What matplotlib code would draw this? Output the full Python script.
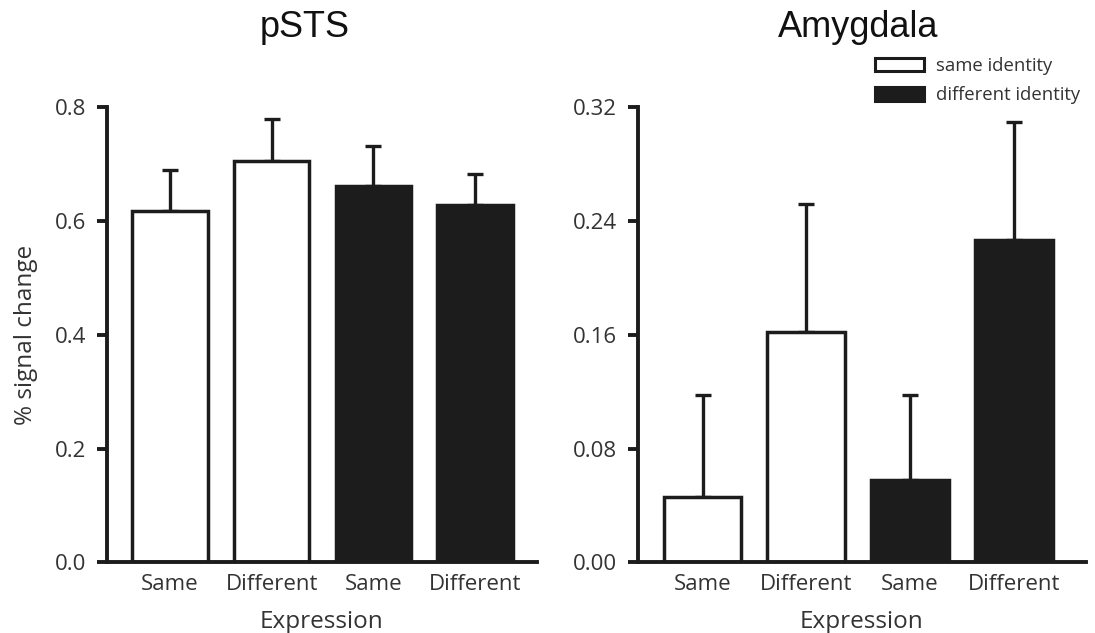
import matplotlib
matplotlib.use("Agg")
import matplotlib.pyplot as plt
from matplotlib.patches import Patch
from matplotlib.ticker import FormatStrFormatter
import numpy as np

plt.rcParams['font.family'] = ['Open Sans', 'DejaVu Sans']

# expression condition on the x axis, identity decides the fill
conditions = ['Same', 'Different', 'Same', 'Different']
identity = ['same', 'same', 'different', 'different']

psts_mean = [0.618, 0.705, 0.661, 0.628]
psts_err = [0.072, 0.075, 0.071, 0.054]

amyg_mean = [0.046, 0.162, 0.058, 0.227]
amyg_err = [0.072, 0.090, 0.060, 0.083]

INK = '#1c1c1c'
TXT = '#333333'
fill = {'same': 'white', 'different': INK}

fig = plt.figure(figsize=(10.95, 6.33), dpi=100)
ax1 = fig.add_axes([0.098, 0.1117, 0.392, 0.7188])
ax2 = fig.add_axes([0.5824, 0.1117, 0.4094, 0.7188])


def draw_panel(ax, means, errs, width, xlim, ymax, step, fmt):
    x = np.arange(len(means))
    ax.errorbar(x, means, yerr=[np.zeros(len(errs)), errs], fmt='none',
                ecolor=INK, elinewidth=2.4, capsize=5.5, capthick=2.4, zorder=1)
    ax.bar(x, means, width=width, color=[fill[i] for i in identity],
           edgecolor=INK, linewidth=2.5, zorder=2)
    ax.set_xlim(*xlim)
    ax.set_ylim(0, ymax)
    ax.set_yticks(np.arange(0, ymax + step / 2, step))
    ax.yaxis.set_major_formatter(FormatStrFormatter(fmt))
    ax.set_xticks(x)
    ax.set_xticklabels(conditions)
    for s in ['top', 'right']:
        ax.spines[s].set_visible(False)
    for s in ['left', 'bottom']:
        ax.spines[s].set_linewidth(2.8)
        ax.spines[s].set_color(INK)
    ax.tick_params(axis='y', length=7.2, width=2.8, color=INK, pad=8,
                   labelsize=16, labelcolor=TXT)
    ax.tick_params(axis='x', length=0, pad=8.5, labelsize=16, labelcolor=TXT)
    ax.set_xlabel('Expression', fontsize=17.5, color=TXT, labelpad=11)


draw_panel(ax1, psts_mean, psts_err, 0.74, (-0.617, 3.606), 0.8, 0.2, '%.1f')
draw_panel(ax2, amyg_mean, amyg_err, 0.75, (-0.625, 3.698), 0.32, 0.08, '%.2f')

ax1.set_ylabel('% signal change', fontsize=17.5, color=TXT, labelpad=12)

fig.text(305 / 1095, 1 - 37 / 633, 'pSTS', ha='center', va='baseline',
         fontsize=26, family=['Liberation Sans', 'DejaVu Sans'], color='#111111')
fig.text(858 / 1095, 1 - 37 / 633, 'Amygdala', ha='center', va='baseline',
         fontsize=26, family=['Liberation Sans', 'DejaVu Sans'], color='#111111')

handles = [Patch(facecolor='white', edgecolor=INK, linewidth=2.2, label='same identity'),
           Patch(facecolor=INK, edgecolor=INK, linewidth=2.2, label='different identity')]
leg = fig.legend(handles=handles, loc='upper left', bbox_to_anchor=(875 / 1095, 1 - 57 / 633),
                 frameon=False, fontsize=13.3, handlelength=2.65, handleheight=0.75,
                 handletextpad=0.65, labelspacing=0.62, borderpad=0, borderaxespad=0)
for t in leg.get_texts():
    t.set_color(TXT)

fig.savefig('out.png', dpi=100)
